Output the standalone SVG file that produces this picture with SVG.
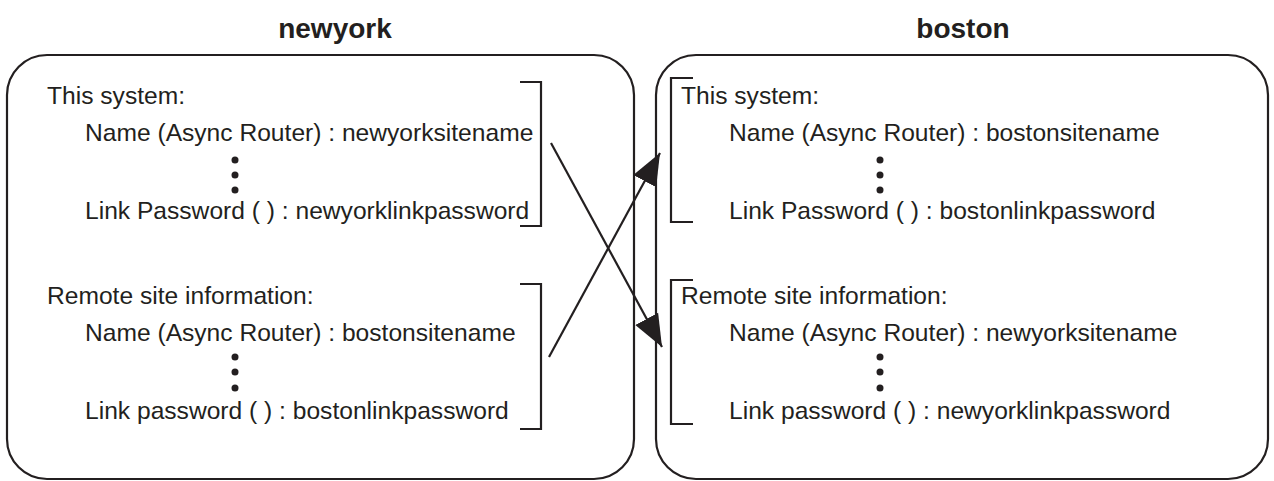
<svg xmlns="http://www.w3.org/2000/svg" width="1274" height="481" viewBox="0 0 1274 481">
<style>
.box{fill:none;stroke:#231f20;stroke-width:2.2}
.br{fill:none;stroke:#231f20;stroke-width:2.2}
.t{font-family:"Liberation Sans",Arial,sans-serif;font-size:24.6px;fill:#231f20}
.title{font-family:"Liberation Sans",Arial,sans-serif;font-size:28px;font-weight:bold;fill:#231f20;text-anchor:middle}
.dot{fill:#231f20}
.conn{stroke:#231f20;stroke-width:2.2;fill:none}
</style>
<defs>
<marker id="ah" markerUnits="userSpaceOnUse" markerWidth="34" markerHeight="28" viewBox="0 -14 34 28" refX="32" refY="0" orient="auto"><path d="M0,-13 L32,0 L0,13 z" fill="#231f20"/></marker>
</defs>
<g id="newyork">
<text class="title" x="335" y="38">newyork</text>
<rect class="box" x="7" y="55" width="627" height="424" rx="40" ry="40"/>
<text class="t" x="47" y="104">This system:</text>
<text class="t" x="85" y="141">Name (Async Router) : newyorksitename</text>
<circle class="dot" cx="235" cy="160" r="3.5"/><circle class="dot" cx="235" cy="175" r="3.5"/><circle class="dot" cx="235" cy="190" r="3.5"/>
<text class="t" x="85" y="219">Link Password ( ) : newyorklinkpassword</text>
<path class="br" d="M520,82 H541 V226 H520"/>
<text class="t" x="47" y="304">Remote site information:</text>
<text class="t" x="85" y="341">Name (Async Router) : bostonsitename</text>
<circle class="dot" cx="235" cy="357" r="3.5"/><circle class="dot" cx="235" cy="372" r="3.5"/><circle class="dot" cx="235" cy="388" r="3.5"/>
<text class="t" x="85" y="419">Link password ( ) : bostonlinkpassword</text>
<path class="br" d="M520,284 H541 V429 H520"/>
</g>
<g id="boston">
<text class="title" x="963" y="38">boston</text>
<rect class="box" x="656" y="55" width="612" height="424" rx="40" ry="40"/>
<path class="br" d="M693,78 H671 V222 H693"/>
<text class="t" x="681" y="104">This system:</text>
<text class="t" x="729" y="141">Name (Async Router) : bostonsitename</text>
<circle class="dot" cx="880" cy="160" r="3.5"/><circle class="dot" cx="880" cy="175" r="3.5"/><circle class="dot" cx="880" cy="190" r="3.5"/>
<text class="t" x="729" y="219">Link Password ( ) : bostonlinkpassword</text>
<path class="br" d="M693,280 H671 V424 H693"/>
<text class="t" x="681" y="304">Remote site information:</text>
<text class="t" x="729" y="341">Name (Async Router) : newyorksitename</text>
<circle class="dot" cx="880" cy="357" r="3.5"/><circle class="dot" cx="880" cy="372" r="3.5"/><circle class="dot" cx="880" cy="388" r="3.5"/>
<text class="t" x="729" y="419">Link password ( ) : newyorklinkpassword</text>
</g>
<g id="connectors">
<line class="conn" x1="551" y1="143" x2="662" y2="347" marker-end="url(#ah)"/>
<line class="conn" x1="549" y1="357" x2="660" y2="153" marker-end="url(#ah)"/>
</g>
</svg>
